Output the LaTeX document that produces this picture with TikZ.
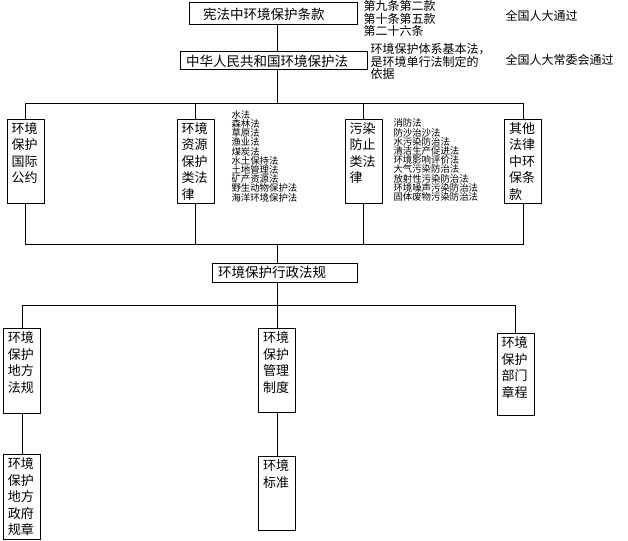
\documentclass[tikz,border=0pt]{standalone}
\usepackage{fontspec}
\setmainfont{Noto Sans CJK SC}
\usetikzlibrary{positioning}
\lineskiplimit=-20pt

\begin{document}
\begin{tikzpicture}[
    x=1pt, y=-1pt,
    line width=1pt,
    lawbox/.style={rectangle, draw, align=left, inner xsep=6pt, inner ysep=2pt,
        font=\fontsize{13.5}{16}\selectfont},
    colbox/.style={rectangle, draw, anchor=north, align=left, text width=28pt,
        inner xsep=4.5pt, inner ysep=3pt, text height=11pt,
        font=\fontsize{13}{16.5}\selectfont},
    note/.style={anchor=north west, inner sep=0pt, align=left,
        font=\fontsize{12}{12.6}\selectfont},
    lawlist/.style={anchor=north west, inner sep=0pt, align=left,
        font=\fontsize{9.4}{9.2}\selectfont},
    link/.style={draw, line width=1pt, line join=miter}
]
\useasboundingbox (0,0) rectangle (628,540);

% top levels
\node[lawbox, text width=156pt, minimum height=22pt] (xf) at (273,14) {\hspace*{8pt}宪法中环境保护条款};
\node[lawbox, text width=175pt, minimum height=18pt] (hbf) at (273.5,61) {中华人民共和国环境保护法};
\node[note] (xfnote) at (363,0) {第九条第二款\\第十条第五款\\第二十六条};
\node[note, anchor=west] (qgrd) at (505,16) {全国人大通过};
\node[note] (hbfnote) at (370,43) {环境保护体系基本法，\\是环境单行法制定的\\依据};
\node[note, anchor=west] (cwh) at (505,60) {全国人大常委会通过};

% laws
\node[colbox, text depth=67pt] (gjgy) at (25.5,119) {环境\\保护\\国际\\公约};
\node[colbox, text depth=67pt] (zyfl) at (195.5,119) {环境\\资源\\保护\\类法\\律};
\node[colbox, text depth=67pt] (wrfl) at (363.5,119) {污染\\防止\\类法\\律};
\node[colbox, text depth=67pt] (qtfl) at (523,119) {其他\\法律\\中环\\保条\\款};
\node[lawlist] (zylist) at (231,110) {水法\\森林法\\草原法\\渔业法\\煤炭法\\水土保持法\\土地管理法\\矿产资源法\\野生动物保护法\\海洋环境保护法};
\node[lawlist] (wrlist) at (393,118.5) {消防法\\防沙治沙法\\水污染防治法\\清洁生产促进法\\环境影响评价法\\大气污染防治法\\放射性污染防治法\\环境噪声污染防治法\\固体废物污染防治法};

% regulations
\node[lawbox, text width=133pt, minimum height=19pt] (xzfg) at (284.5,272.5) {环境保护行政法规};
\node[colbox, text depth=68pt] (dffg) at (22,328) {环境\\保护\\地方\\法规};
\node[colbox, text depth=67pt] (glzd) at (277,328) {环境\\保护\\管理\\制度};
\node[colbox, text depth=65pt] (bmzc) at (515.5,333) {环境\\保护\\部门\\章程};
\node[colbox, text depth=68pt, below=40pt of dffg] (dfgz) {环境\\保护\\地方\\政府\\规章};
\node[colbox, text depth=57pt, below=43pt of glzd] (hjbz) {环境\\标准};

% connectors
\coordinate (trunk) at (277,0);
\coordinate (busA) at (0,104);
\coordinate (busB) at (0,244);
\coordinate (busC) at (0,305);
\path[link] (xf.south -| trunk) -- (hbf.north -| trunk);
\path[link] (hbf.south -| trunk) -- (trunk |- busA);
\path[link] (gjgy.north) -- (gjgy.north |- busA) -- (qtfl.north |- busA) -- (qtfl.north);
\path[link] (gjgy.south) -- (gjgy.south |- busB) -- (qtfl.south |- busB) -- (qtfl.south);
\foreach \n in {zyfl, wrfl}
    \path[link] (\n.north) -- (\n.north |- busA) (\n.south) -- (\n.south |- busB);
\path[link] (trunk |- busB) -- (xzfg.north -| trunk);
\path[link] (xzfg.south -| trunk) -- (trunk |- busC);
\path[link] (dffg.north) -- (dffg.north |- busC) -- (bmzc.north |- busC) -- (bmzc.north);
\path[link] (glzd.north) -- (glzd.north |- busC);
\path[link] (dffg.south) -- (dfgz.north);
\path[link] (glzd.south) -- (hjbz.north);
\end{tikzpicture}
\end{document}
